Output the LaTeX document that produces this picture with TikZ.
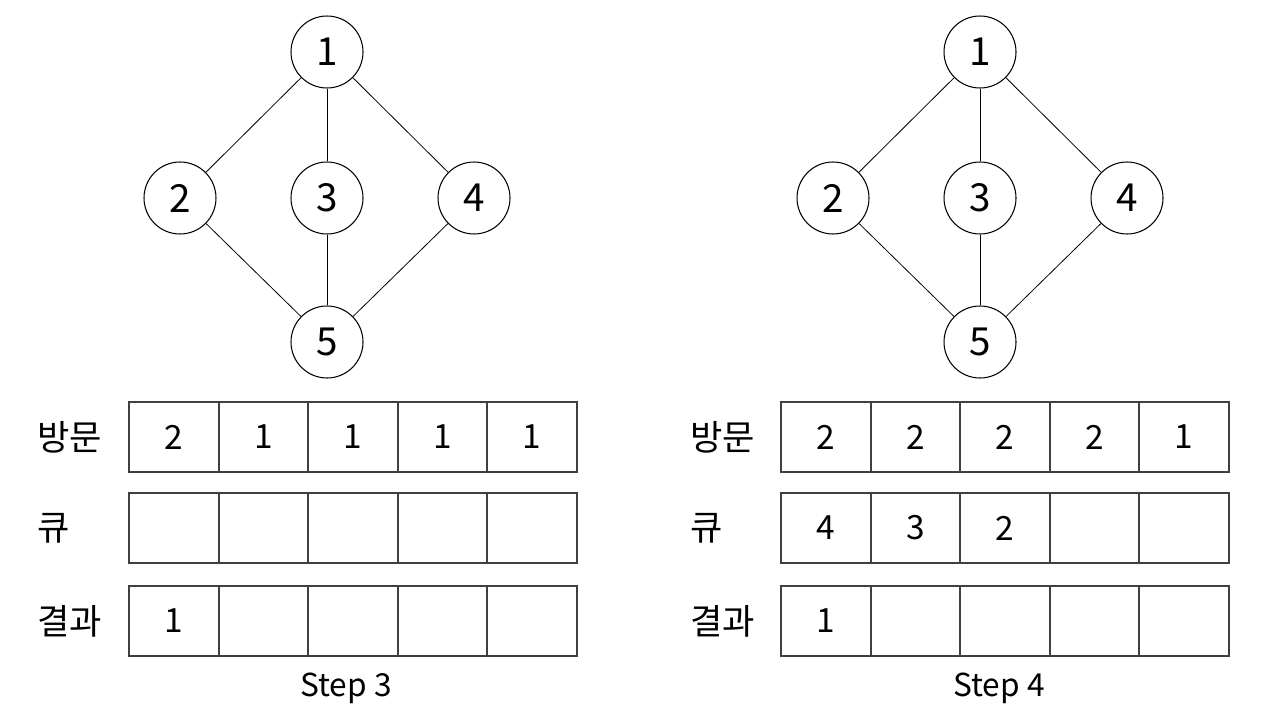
\documentclass[tikz,border=0pt]{standalone}
\usepackage{fontspec}
\setmainfont{Noto Sans CJK KR}
\begin{document}
\begin{tikzpicture}[
x=0.02cm, y=-0.02cm,
vertex/.style={circle,draw,line width=0.6pt,minimum size=1.44cm,inner sep=0pt,font=\fontsize{22}{24}\selectfont},
cell/.style={rectangle,draw=black!75,line width=1.1pt,minimum width=1.792cm,minimum height=1.4cm,inner sep=0pt,font=\fontsize{19}{21}\selectfont},
rowlabel/.style={anchor=west,inner sep=0pt,font=\fontsize{20}{22}\selectfont},
edge/.style={line width=0.45pt}
]
\useasboundingbox (0,0) rectangle (1280,720);

% Step 3
\node[vertex] (a1) at (327,52) {1};
\node[vertex] (a2) at (180,198) {2};
\node[vertex] (a3) at (327,198) {3};
\node[vertex] (a4) at (474,198) {4};
\node[vertex] (a5) at (327,342) {5};
\draw[edge] (a1) -- (a2);
\draw[edge] (a1) -- (a3);
\draw[edge] (a1) -- (a4);
\draw[edge] (a2) -- (a5);
\draw[edge] (a3) -- (a5);
\draw[edge] (a4) -- (a5);

\node[rowlabel] (avl) at (37,437) {방문};
\node[rowlabel] (aql) at (37,528) {큐};
\node[rowlabel] (arl) at (37,621) {결과};
\foreach \v [count=\i] in {2,1,1,1,1}
  \node[cell] (av\i) at (84.2+89.6*\i,437) {\v};
\foreach \v [count=\i] in {{},{},{},{},{}}
  \node[cell] (aq\i) at (84.2+89.6*\i,528) {\v};
\foreach \v [count=\i] in {1,{},{},{},{}}
  \node[cell] (ar\i) at (84.2+89.6*\i,621) {\v};
\node[font=\fontsize{18}{20}\selectfont] (acap) at (346,688) {Step 3};

% Step 4
\node[vertex] (b1) at (980,52) {1};
\node[vertex] (b2) at (833,198) {2};
\node[vertex] (b3) at (980,198) {3};
\node[vertex] (b4) at (1127,198) {4};
\node[vertex] (b5) at (980,342) {5};
\draw[edge] (b1) -- (b2);
\draw[edge] (b1) -- (b3);
\draw[edge] (b1) -- (b4);
\draw[edge] (b2) -- (b5);
\draw[edge] (b3) -- (b5);
\draw[edge] (b4) -- (b5);

\node[rowlabel] (bvl) at (690,437) {방문};
\node[rowlabel] (bql) at (690,528) {큐};
\node[rowlabel] (brl) at (690,621) {결과};
\foreach \v [count=\i] in {2,2,2,2,1}
  \node[cell] (bv\i) at (736.2+89.6*\i,437) {\v};
\foreach \v [count=\i] in {4,3,2,{},{}}
  \node[cell] (bq\i) at (736.2+89.6*\i,528) {\v};
\foreach \v [count=\i] in {1,{},{},{},{}}
  \node[cell] (br\i) at (736.2+89.6*\i,621) {\v};
\node[font=\fontsize{18}{20}\selectfont] (bcap) at (999,688) {Step 4};
\end{tikzpicture}
\end{document}
